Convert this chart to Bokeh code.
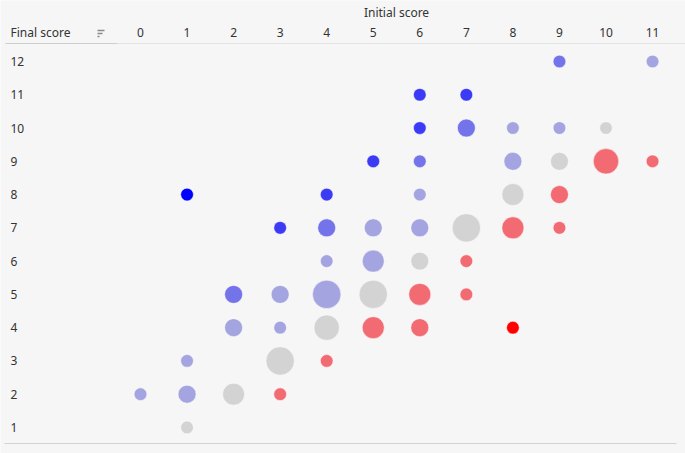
from bokeh.plotting import figure
from bokeh.models import ColumnDataSource, Range1d
from bokeh.core.properties import value
from bokeh.embed import file_html
from bokeh.resources import INLINE
import math

# ---- data ----
initial_ticks = list(range(0, 12))
final_ticks = list(range(1, 13))
initial = [9, 11,
           6, 7,
           6, 7, 8, 9, 10,
           5, 6, 8, 9, 10, 11,
           1, 4, 6, 8, 9,
           3, 4, 5, 6, 7, 8, 9,
           4, 5, 6, 7,
           2, 3, 4, 5, 6, 7,
           2, 3, 4, 5, 6, 8,
           1, 3, 4,
           0, 1, 2, 3,
           1]
final = [12, 12,
         11, 11,
         10, 10, 10, 10, 10,
         9, 9, 9, 9, 9, 9,
         8, 8, 8, 8, 8,
         7, 7, 7, 7, 7, 7, 7,
         6, 6, 6, 6,
         5, 5, 5, 5, 5, 5,
         4, 4, 4, 4, 4, 4,
         3, 3, 3,
         2, 2, 2, 2,
         1]
count = [1, 1,
         1, 1,
         1, 2, 1, 1, 1,
         1, 1, 2, 2, 4, 1,
         1, 1, 1, 3, 2,
         1, 2, 2, 2, 5, 3, 1,
         1, 3, 2, 1,
         2, 2, 5, 5, 3, 1,
         2, 1, 4, 3, 2, 1,
         1, 5, 1,
         1, 2, 3, 1,
         1]


def change_color(d):
    if d >= 6:
        return "#0000ff"
    if d >= 4:
        return "#3b3bf5"
    if d >= 3:
        return "#7373ea"
    if d >= 1:
        return "#a4a4e0"
    if d == 0:
        return "#d3d3d3"
    if d >= -2:
        return "#f26a72"
    return "#ff0000"


colors = [change_color(f - i) for i, f in zip(initial, final)]
sizes = [12.7 * math.sqrt(c) for c in count]

# ---- layout (pixel geometry of the reference) ----
W, H = 685, 453
X0, DX = 140, 46.55     # pixel x of initial score 0, spacing
Y12, DY = 61, 33.27     # pixel y of final score 12, spacing


def dx(px):   # pixel x -> data x
    return (px - X0) / DX


def dy(py):   # pixel y (from top) -> data y
    return 12 + (Y12 - py) / DY


p = figure(width=W, height=H, output_backend="svg", toolbar_location=None,
           x_range=Range1d(dx(0), dx(W)), y_range=Range1d(dy(H), dy(0)),
           x_axis_location=None, y_axis_location=None,
           min_border=0, min_border_left=0, min_border_right=0,
           min_border_top=0, min_border_bottom=0)
p.background_fill_color = "#f6f6f6"
p.border_fill_color = "#f6f6f6"
p.outline_line_color = None
p.xgrid.visible = False
p.ygrid.visible = False

# separator lines
p.segment(x0=[dx(5)], x1=[dx(W)], y0=[dy(43)], y1=[dy(43)],
          line_color="#e4e4e4", line_width=1)
p.segment(x0=[dx(5)], x1=[dx(117)], y0=[dy(43)], y1=[dy(43)],
          line_color="#cfcfcf", line_width=1)
p.segment(x0=[dx(4)], x1=[dx(676)], y0=[dy(443)], y1=[dy(443)],
          line_color="#d2d2d2", line_width=1)

# sort icon
p.segment(x0=[dx(97)] * 3,
          x1=[dx(104), dx(102), dx(99)],
          y0=[dy(30), dy(33), dy(36)],
          y1=[dy(30), dy(33), dy(36)],
          line_color="#8a8a8a", line_width=1.3)

font = value("Noto Sans")
tc = "#333333"

# column headers
p.text(x=initial_ticks, y=[dy(32)] * len(initial_ticks),
       text=[str(t) for t in initial_ticks], text_font=font, text_font_size="12px",
       text_align="center", text_baseline="middle", text_color=tc)
p.text(x=[5.5], y=[dy(12)], text=["Initial score"], text_font=font,
       text_font_size="12px", text_align="center", text_baseline="middle", text_color=tc)

# row headers
p.text(x=[dx(10)] * len(final_ticks), y=final_ticks,
       text=[str(t) for t in final_ticks], text_font=font, text_font_size="12px",
       text_align="left", text_baseline="middle", text_color=tc)
p.text(x=[dx(10)], y=[dy(32)], text=["Final score"], text_font=font,
       text_font_size="12px", text_align="left", text_baseline="middle", text_color=tc)

src = ColumnDataSource(dict(initial=initial, final=final, size=sizes, color=colors, count=count))
p.scatter(x="initial", y="final", size="size", fill_color="color", line_color="#ffffff",
          line_alpha=0.5, line_width=1, source=src)

open("out.html", "w").write(file_html(p, INLINE))
